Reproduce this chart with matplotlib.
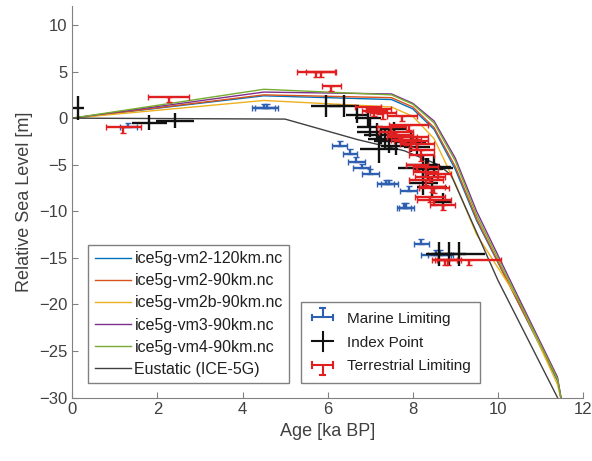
import numpy as np
import matplotlib
matplotlib.use('Agg')
import matplotlib.pyplot as plt
from matplotlib.legend_handler import HandlerBase
from matplotlib.lines import Line2D

plt.rcParams['font.family'] = ['Liberation Sans', 'DejaVu Sans']

# Model curves
model_age = [0, 4.5, 7.5, 8.0, 8.5, 9.0, 9.5, 10.5, 11.4, 11.5]
vm2_120 = [0, 2.4, 2.0, 1.0, -1.2, -5.5, -11.0, -20.0, -28.2, -30.5]
vm2_90 = [0, 2.5, 2.2, 1.2, -1.0, -5.2, -10.8, -20.0, -28.0, -30.5]
vm2b_90 = [0, 1.9, 1.2, 0.2, -2.2, -7.0, -12.5, -19.6, -28.6, -30.5]
vm3_90 = [0, 2.8, 2.6, 1.6, -0.3, -4.3, -10.0, -19.4, -27.8, -30.5]
vm4_90 = [0, 3.1, 2.5, 1.5, -0.5, -4.6, -10.4, -19.7, -28.0, -30.5]
eus_age = [0, 5.0, 6.7, 7.8, 8.6, 8.9, 10.0, 11.4]
eus_rsl = [0, -0.1, -2.3, -3.5, -5.0, -6.1, -17.4, -30.0]

model_names = ['ice5g-vm2-120km.nc', 'ice5g-vm2-90km.nc', 'ice5g-vm2b-90km.nc',
               'ice5g-vm3-90km.nc', 'ice5g-vm4-90km.nc']
model_colors = ['#0072BD', '#D95319', '#EDB120', '#7E2F8E', '#77AC30']

# Marine limiting
mar_age = [1.32, 4.50, 4.57, 6.28, 6.52, 6.67, 6.80, 7.00, 7.37, 7.45, 7.9, 7.8, 7.85, 8.2, 8.55, 8.65]
mar_rsl = [-1.0, 1.1, 1.1, -2.95, -3.8, -4.7, -5.4, -6.0, -7.1, -7.1, -7.8, -9.6, -9.6, -13.5, -14.7, -14.7]
mar_aerr = [0.2, 0.27, 0.27, 0.18, 0.17, 0.2, 0.2, 0.2, 0.2, 0.2, 0.2, 0.17, 0.17, 0.18, 0.35, 0.3]
mar_rerr = [0.5, 0.45, 0.45, 0.5, 0.5, 0.5, 0.5, 0.5, 0.5, 0.5, 0.5, 0.5, 0.5, 0.5, 0.5, 0.5]

# Index points
idx_age = [0.14, 1.81, 2.41, 5.96, 6.39, 6.68, 6.95, 7.15, 7.25, 7.35, 7.45, 7.2, 7.55,
           7.95, 8.1, 8.25, 8.35, 8.5, 8.25, 8.45, 8.72, 8.62, 8.84, 9.09, 7.0, 7.6, 8.3]
idx_rsl = [1.1, -0.5, -0.3, 1.3, 1.3, 0.3, 0.0, -1.5, -1.8, -2.2, -2.5, -3.3, -1.2,
           -2.6, -3.1, -5.0, -5.5, -5.2, -7.0, -7.4, -9.0, -14.6, -14.6, -14.6, -1.0, -3.0, -5.3]
idx_aerr = [0.13, 0.41, 0.44, 0.35, 0.35, 0.25, 0.3, 0.45, 0.4, 0.4, 0.35, 0.45, 0.3,
            0.35, 0.3, 0.4, 0.35, 0.4, 0.35, 0.35, 0.2, 0.3, 0.4, 0.6, 0.3, 0.35, 0.65]
idx_rerr = [1.25, 0.8, 0.8, 1.2, 1.2, 0.8, 0.8, 1.0, 1.0, 1.0, 1.2, 1.5, 0.8,
            1.0, 1.0, 1.2, 1.2, 1.2, 1.2, 1.2, 1.0, 1.25, 1.25, 1.25, 1.0, 1.0, 1.0]

# Terrestrial limiting
ter_age = [1.2, 2.27, 5.72, 5.84, 6.09, 6.95, 7.1, 7.2, 7.74, 7.9, 7.6, 7.75, 7.85, 7.95,
           8.1, 8.2, 8.1, 8.3, 8.4, 8.3, 8.45, 8.5, 8.5, 8.75, 8.83, 9.33,
           7.5, 7.7, 8.0, 7.3, 8.2, 8.3, 8.6, 8.4, 8.7]
ter_rsl = [-1.0, 2.3, 5.0, 5.0, 3.5, 1.2, 0.8, 1.0, 0.2, -0.7, -1.5, -2.0, -2.3, -2.5,
           -2.8, -3.4, -5.0, -5.8, -6.3, -6.6, -7.4, -7.5, -8.8, -15.2, -15.2, -15.2,
           -1.0, -1.8, -2.0, 0.5, -4.0, -5.2, -6.0, -8.5, -9.3]
ter_aerr = [0.41, 0.48, 0.45, 0.35, 0.22, 0.3, 0.3, 0.3, 0.35, 0.45, 0.4, 0.35, 0.35, 0.4,
            0.4, 0.3, 0.25, 0.3, 0.35, 0.4, 0.3, 0.35, 0.4, 0.3, 0.3, 0.75,
            0.35, 0.3, 0.35, 0.3, 0.3, 0.3, 0.3, 0.35, 0.3]
ter_rerr = [0.55] * len(ter_age)


class ErrHandler(HandlerBase):
    def __init__(self, up, down, caps):
        super().__init__()
        self.up, self.down, self.caps = up, down, caps

    def create_artists(self, legend, orig_handle, xdescent, ydescent, width,
                       height, fontsize, trans):
        col = orig_handle.lines[2][0].get_color()[0]
        cx = width / 2 - xdescent
        cy = height / 2 - ydescent
        x0, x1 = -xdescent + 0.1 * width, -xdescent + 0.9 * width
        h = 0.9 * height
        arts = [Line2D([x0, x1], [cy, cy], color=col, lw=1.5),
                Line2D([cx, cx], [cy - self.down * h, cy + self.up * h], color=col, lw=1.5)]
        if self.caps:
            c = 0.25 * height
            arts += [Line2D([x0, x0], [cy - c, cy + c], color=col, lw=1.5),
                     Line2D([x1, x1], [cy - c, cy + c], color=col, lw=1.5)]
            if self.up:
                arts.append(Line2D([cx - c, cx + c], [cy + h, cy + h], color=col, lw=1.5))
            if self.down:
                arts.append(Line2D([cx - c, cx + c], [cy - h, cy - h], color=col, lw=1.5))
        for a in arts:
            a.set_transform(trans)
        return arts


fig = plt.figure(figsize=(5.92, 4.61), dpi=100)
ax = fig.add_axes([0.1221, 0.1377, 0.8627, 0.8484])

axcol = '#404040'
lines = []
for vals, name, c in zip([vm2_120, vm2_90, vm2b_90, vm3_90, vm4_90], model_names, model_colors):
    l, = ax.plot(model_age, vals, color=c, lw=1.0, label=name)
    lines.append(l)
l, = ax.plot(eus_age, eus_rsl, color='#404040', lw=1.0, label='Eustatic (ICE-5G)')
lines.append(l)

mar = ax.errorbar(mar_age, mar_rsl, xerr=mar_aerr, yerr=[np.zeros(len(mar_rerr)), mar_rerr],
                  fmt='none', ecolor='#2f5fb0', elinewidth=1.7, capsize=2)
idx = ax.errorbar(idx_age, idx_rsl, xerr=idx_aerr, yerr=idx_rerr,
                  fmt='none', ecolor='#111111', elinewidth=1.7, capsize=0)
ter = ax.errorbar(ter_age, ter_rsl, xerr=ter_aerr, yerr=[ter_rerr, np.zeros(len(ter_rerr))],
                  fmt='none', ecolor='#e02020', elinewidth=1.7, capsize=2)

ax.set_xlim(0, 12)
ax.set_ylim(-30, 12)
ax.set_xticks(range(0, 13, 2))
ax.set_yticks(range(-30, 11, 5))
ax.spines['top'].set_visible(False)
ax.spines['right'].set_visible(False)
for s in ['left', 'bottom']:
    ax.spines[s].set_color('#808080')
ax.tick_params(direction='in', length=4, colors='#808080', labelcolor=axcol, labelsize=12)
ax.set_xlabel('Age [ka BP]', fontsize=13, color=axcol)
ax.set_ylabel('Relative Sea Level [m]', fontsize=13, color=axcol)

leg1 = ax.legend(handles=lines, loc='lower left', bbox_to_anchor=(0.031, 0.036),
                 borderaxespad=0, fontsize=11.5, fancybox=False, edgecolor='#808080',
                 framealpha=1, handlelength=2.3, handletextpad=0.2, labelspacing=0.45,
                 borderpad=0.4)
for t in leg1.get_texts():
    t.set_color('#202020')
ax.add_artist(leg1)
leg2 = ax.legend([mar, idx, ter], ['Marine Limiting', 'Index Point', 'Terrestrial Limiting'],
                 handler_map={mar: ErrHandler(1, 0, True), idx: ErrHandler(1, 1, False),
                              ter: ErrHandler(0, 1, True)},
                 loc='lower left', bbox_to_anchor=(0.447, 0.038), borderaxespad=0,
                 fontsize=11, fancybox=False, edgecolor='#808080', framealpha=1,
                 handlelength=1.7, handletextpad=0.75, labelspacing=0.65, borderpad=0.6)
for t in leg2.get_texts():
    t.set_color('#202020')

fig.savefig('out.png', dpi=100)
